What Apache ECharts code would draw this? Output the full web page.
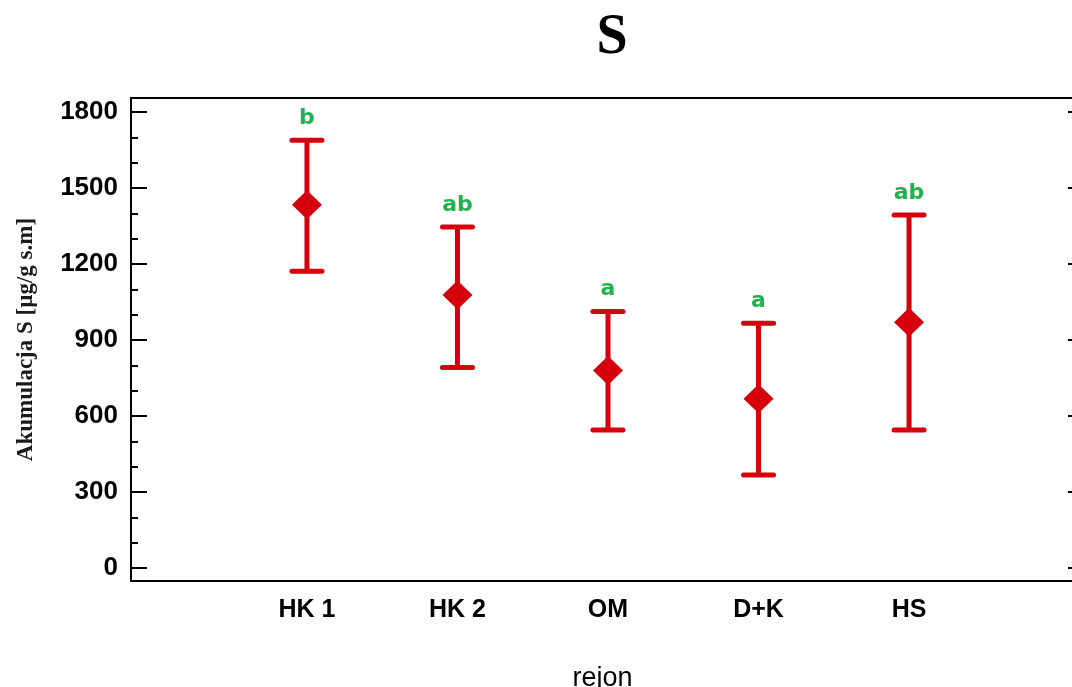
<!DOCTYPE html>
<html>
<head>
<meta charset="utf-8">
<script src="https://cdn.jsdelivr.net/npm/echarts@6/dist/echarts.min.js"></script>
<style>
html,body{margin:0;padding:0;background:#fff;}
#chart{width:1072px;height:687px;}
</style>
</head>
<body>
<div id="chart"></div>
<script>
// ---- data ----
const categories = ['HK 1', 'HK 2', 'OM', 'D+K', 'HS'];
const means = [1434, 1078, 780, 668, 970];
const lower = [1171, 792, 545, 367, 545];
const upper = [1688, 1346, 1012, 966, 1393];
const letters = ['b', 'ab', 'a', 'a', 'ab'];
const yTickLabels = [0, 300, 600, 900, 1200, 1500, 1800];
const yMinorTicks = [100, 200, 400, 500, 700, 800, 1000, 1100, 1300, 1400, 1600, 1700];

const RED = '#d6000c';
const GREEN = '#22b14c';
const SANS = '"Liberation Sans", Arial, sans-serif';
const SERIF = '"Liberation Serif", "Times New Roman", serif';

const xPos = categories.map((c, i) => i + 1);
const xMin = -0.169, xMax = 6.096;
const yMin = -51, yMax = 1855;

const chart = echarts.init(document.getElementById('chart'));
chart.setOption({
  animation: false,
  backgroundColor: '#ffffff',
  title: {
    text: 'S',
    left: 607,
    textAlign: 'center',
    top: 6,
    textStyle: { fontFamily: SERIF, fontWeight: 'bold', fontSize: 56, color: '#000' }
  },
  grid: { left: 131, right: -2, top: 98, bottom: 106, containLabel: false, outerBoundsMode: 'none' },
  xAxis: [
    {
      type: 'value', position: 'bottom', min: xMin, max: xMax,
      axisLine: { show: true, onZero: false, lineStyle: { color: '#000', width: 2 } },
      axisTick: { show: false },
      splitLine: { show: false },
      axisLabel: {
        customValues: xPos,
        formatter: v => categories[Math.round(v) - 1] || '',
        fontFamily: SANS, fontWeight: 'bold', fontSize: 25, color: '#000', margin: 17
      },
      name: 'rejon', nameLocation: 'middle', nameGap: 84,
      nameTextStyle: { fontFamily: SANS, fontSize: 27, color: '#000' }
    },
    {
      type: 'value', position: 'top', min: xMin, max: xMax,
      axisLine: { show: true, onZero: false, lineStyle: { color: '#000', width: 2 } },
      axisTick: { show: false }, axisLabel: { show: false }, splitLine: { show: false }
    }
  ],
  yAxis: [
    {
      type: 'value', position: 'left', min: yMin, max: yMax,
      axisLine: { show: true, onZero: false, lineStyle: { color: '#000', width: 2 } },
      axisTick: { show: true, inside: true, length: 16, customValues: yTickLabels, lineStyle: { color: '#000', width: 2 } },
      axisLabel: {
        customValues: yTickLabels,
        formatter: v => String(Math.round(v)),
        fontFamily: SANS, fontWeight: 'bold', fontSize: 26, color: '#000', margin: 13
      },
      splitLine: { show: false },
      name: 'Akumulacja S [µg/g s.m]', nameLocation: 'middle', nameRotate: 90, nameGap: 93,
      nameTextStyle: { fontFamily: SERIF, fontWeight: 'bold', fontSize: 23, color: '#1a1a1a' }
    },
    {
      type: 'value', position: 'left', min: yMin, max: yMax,
      axisLine: { show: false, onZero: false },
      axisTick: { show: true, inside: true, length: 7, customValues: yMinorTicks, lineStyle: { color: '#000', width: 2 } },
      axisLabel: { show: false }, splitLine: { show: false }
    },
    {
      type: 'value', position: 'right', min: yMin, max: yMax,
      axisLine: { show: true, onZero: false, lineStyle: { color: '#000', width: 2 } },
      axisTick: { show: true, inside: true, length: 6, customValues: yTickLabels, lineStyle: { color: '#000', width: 2 } },
      axisLabel: { show: false }, splitLine: { show: false }
    }
  ],
  series: [
    {
      type: 'custom',
      xAxisIndex: 0, yAxisIndex: 0,
      data: xPos.map((x, i) => [x, lower[i], upper[i]]),
      encode: { x: 0, y: [1, 2] },
      z: 2,
      renderItem: function (params, api) {
        const x = api.value(0);
        const pLo = api.coord([x, api.value(1)]);
        const pHi = api.coord([x, api.value(2)]);
        const half = 15;
        const st = { stroke: RED, lineWidth: 5, lineCap: 'round' };
        return {
          type: 'group',
          children: [
            { type: 'line', shape: { x1: pLo[0], y1: pLo[1], x2: pHi[0], y2: pHi[1] }, style: { stroke: RED, lineWidth: 5 } },
            { type: 'line', shape: { x1: pHi[0] - half, y1: pHi[1], x2: pHi[0] + half, y2: pHi[1] }, style: st },
            { type: 'line', shape: { x1: pLo[0] - half, y1: pLo[1], x2: pLo[0] + half, y2: pLo[1] }, style: st },
            {
              type: 'text', x: pHi[0], y: pHi[1] - 22,
              style: {
                text: letters[params.dataIndex], fill: GREEN,
                font: 'bold 22px "DejaVu Sans", sans-serif',
                align: 'center', verticalAlign: 'middle'
              }
            }
          ]
        };
      }
    },
    {
      type: 'scatter',
      xAxisIndex: 0, yAxisIndex: 0,
      data: xPos.map((x, i) => [x, means[i]]),
      symbol: 'diamond',
      symbolSize: [30, 29],
      itemStyle: { color: RED, opacity: 1 },
      z: 3
    }
  ]
});
</script>
</body>
</html>
